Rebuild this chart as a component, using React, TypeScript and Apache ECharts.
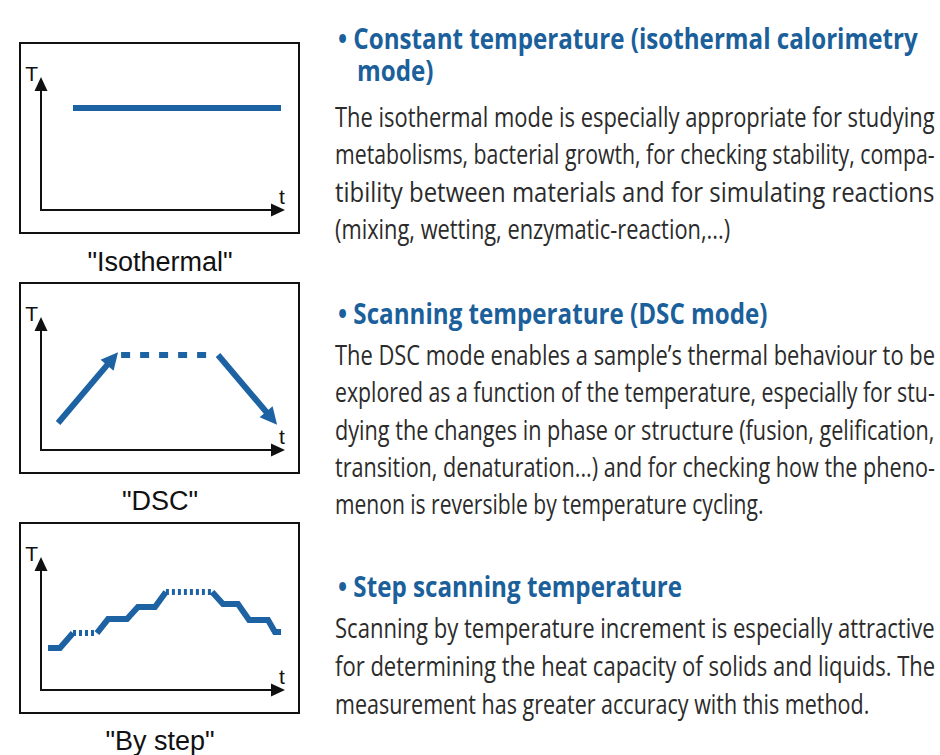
import React, { useEffect, useRef } from "react";
import * as echarts from "echarts";

// ---------- data ----------
const panelLabels = ['"Isothermal"', '"DSC"', '"By step"'];
const tempAxisName = "T";
const timeAxisName = "t";

// Isothermal: constant temperature
const isothermalLine = [[13.5, 81], [103.5, 81]];

// DSC: ramp up, hold (dashed), ramp down
const dscRamp = [[7.2, 21.4], [30.2, 72.5]];
const dscHold = [[33.8, 75.4], [72.2, 75.4]];
const dscCool = [[74.7, 75.4], [97.3, 25.2]];

// By step
const stepRise1 = [[2.95, 33.3], [8.0, 33.3], [13.5, 45.2]];
const stepHold1 = [[13.5, 45.2], [23.6, 45.2]];
const stepRise2 = [[23.6, 45.2], [28.3, 56.3], [36.3, 56.3], [40.9, 65.9], [48.1, 65.9], [52.7, 77.8]];
const stepHold2 = [[52.7, 77.8], [72.2, 77.8]];
const stepFall = [[72.2, 77.8], [76.8, 68.3], [83.1, 68.3], [87.8, 55.6], [95.8, 55.6], [98.7, 46.0], [102.1, 46.0]];

// Texts
const heading1 = ["\u2022 Constant temperature (isothermal calorimetry", "mode)"];
const body1 = [
  "The isothermal mode is especially appropriate for studying",
  "metabolisms, bacterial growth, for checking stability, compa-",
  "tibility between materials and for simulating reactions",
  "(mixing, wetting, enzymatic-reaction,...)",
];
const heading2 = ["\u2022 Scanning temperature (DSC mode)"];
const body2 = [
  "The DSC mode enables a sample\u2019s thermal behaviour to be",
  "explored as a function of the temperature, especially for stu-",
  "dying the changes in phase or structure (fusion, gelification,",
  "transition, denaturation...) and for checking how the pheno-",
  "menon is reversible by temperature cycling.",
];
const heading3 = ["\u2022 Step scanning temperature"];
const body3 = [
  "Scanning by temperature increment is especially attractive",
  "for determining the heat capacity of solids and liquids. The",
  "measurement has greater accuracy with this method.",
];

// ---------- style ----------
const BLUE = "#1d62a2";
const HEAD_BLUE = "#1b5f9b";
const TEXT = "#2b2b2b";
const BODY_FONT = "'Open Sans', 'Noto Sans', sans-serif";
const SANS = "'Liberation Sans', Arial, sans-serif";

const gridTops = [84, 324, 564];
const boxTops = [43, 283, 523];
const labelYs = [262, 501, 741];

function App() {
  const ref = useRef<HTMLDivElement>(null);

  useEffect(() => {
    document.body.style.margin = "0";
    if (!ref.current) return;
    const chart = echarts.init(ref.current, null, { renderer: "svg" });

    const canvas = document.createElement("canvas");
    const ctx = canvas.getContext("2d") as CanvasRenderingContext2D;
    const measure = (t: string, size: number, weight: string) => {
      ctx.font = `${weight} ${size}px 'Open Sans', 'Noto Sans', sans-serif`;
      return ctx.measureText(t).width || t.length * size * 0.5;
    };

    const grids = gridTops.map((top) => ({ left: 41, top, width: 237, height: 126 }));
    const axisLine = {
      show: true,
      onZero: false,
      symbol: ["none", "triangle"],
      symbolSize: [13, 14],
      lineStyle: { color: "#111", width: 2 },
    };
    const xAxes = gridTops.map((_, i) => ({
      type: "value",
      gridIndex: i,
      min: 0,
      max: 100,
      axisLine,
      axisTick: { show: false },
      axisLabel: { show: false },
      splitLine: { show: false },
      name: timeAxisName,
      nameLocation: "end",
      nameGap: 4,
      nameTextStyle: {
        fontFamily: SANS,
        fontSize: 21,
        color: "#111",
        align: "center",
        verticalAlign: "bottom",
        padding: [0, 0, 3, 0],
      },
    }));
    const yAxes = gridTops.map((_, i) => ({
      type: "value",
      gridIndex: i,
      min: 0,
      max: 100,
      axisLine,
      axisTick: { show: false },
      axisLabel: { show: false },
      splitLine: { show: false },
      name: tempAxisName,
      nameLocation: "end",
      nameGap: 0,
      nameTextStyle: {
        fontFamily: SANS,
        fontSize: 21,
        color: "#111",
        align: "right",
        verticalAlign: "bottom",
        padding: [0, 3, 0, 0],
      },
    }));

    const solid = (data: number[][], idx: number) => ({
      type: "line",
      xAxisIndex: idx,
      yAxisIndex: idx,
      data,
      symbol: "none",
      clip: false,
      silent: true,
      lineStyle: { color: BLUE, width: 6, join: "miter", cap: "butt" },
    });
    const dashed = (data: number[][], idx: number, dash: number[], width: number) => ({
      type: "line",
      xAxisIndex: idx,
      yAxisIndex: idx,
      data,
      symbol: "none",
      clip: false,
      silent: true,
      lineStyle: { color: BLUE, width, type: dash, cap: "butt" },
    });

    const textEl = (text: string, x: number, y: number, opts: any, scaleX = 1) => ({
      type: "text",
      x,
      y,
      scaleX,
      silent: true,
      style: { text, verticalAlign: "middle", align: "left", ...opts },
    });

    const graphics: any[] = [];
    boxTops.forEach((top) => {
      graphics.push({
        type: "rect",
        silent: true,
        shape: { x: 20, y: top, width: 279, height: 190 },
        style: { fill: "none", stroke: "#111", lineWidth: 2 },
      });
    });
    panelLabels.forEach((label, i) => {
      graphics.push(
        textEl(label, 160, labelYs[i], { align: "center", fontFamily: SANS, fontSize: 27, fill: "#111" })
      );
    });

    // headings: uniform condensation, computed from first heading line
    const HEAD_SIZE = 28;
    const headStyle = { fontFamily: BODY_FONT, fontSize: HEAD_SIZE, fontWeight: "bold", fill: HEAD_BLUE };
    const headScale = (918 - 338) / measure(heading1[0], HEAD_SIZE, "bold");
    const headX = 338;
    const indent = 19;

    // body: justified lines filled to the right margin
    const BODY_SIZE = 28;
    const bodyStyle = { fontFamily: BODY_FONT, fontSize: BODY_SIZE, fill: TEXT };
    const bodyX = 335;
    const bodyRight = 935;
    const addParagraph = (lines: string[], ys: number[]) => {
      const scales = lines.map((l) => (bodyRight - bodyX) / measure(l, BODY_SIZE, "normal"));
      const full = scales.slice(0, -1);
      const avg = (full.reduce((a, b) => a + b, 0) / full.length) * 0.975;
      lines.forEach((l, i) => {
        const s = i < lines.length - 1 ? scales[i] : avg;
        graphics.push(textEl(l, bodyX, ys[i], bodyStyle, s));
      });
    };

    graphics.push(textEl(heading1[0], headX, 38, headStyle, headScale));
    graphics.push(textEl(heading1[1], headX + indent, 70, headStyle, headScale));
    addParagraph(body1, [116, 153, 191, 228]);
    graphics.push(textEl(heading2[0], headX, 313, headStyle, headScale));
    addParagraph(body2, [354, 391, 429, 466, 503]);
    graphics.push(textEl(heading3[0], headX, 586, headStyle, headScale));
    addParagraph(body3, [627, 665, 703]);

    chart.setOption({
      animation: false,
      backgroundColor: "#ffffff",
      grid: grids,
      xAxis: xAxes,
      yAxis: yAxes,
      graphic: graphics,
      series: [
        solid(isothermalLine, 0),
        dashed(dscHold, 1, [9, 10], 6),
        {
          type: "lines",
          coordinateSystem: "cartesian2d",
          xAxisIndex: 1,
          yAxisIndex: 1,
          symbol: ["none", "triangle"],
          symbolSize: [17, 17],
          silent: true,
          lineStyle: { color: BLUE, width: 6, opacity: 1, curveness: 0 },
          itemStyle: { color: BLUE },
          data: [{ coords: dscRamp }, { coords: dscCool }],
        },
        solid(stepRise1, 2),
        dashed(stepHold1, 2, [3, 3], 6),
        solid(stepRise2, 2),
        dashed(stepHold2, 2, [3, 3], 6),
        solid(stepFall, 2),
      ],
    });

    return () => chart.dispose();
  }, []);

  return <div ref={ref} style={{ width: 940, height: 755 }} />;
}

export default App;
